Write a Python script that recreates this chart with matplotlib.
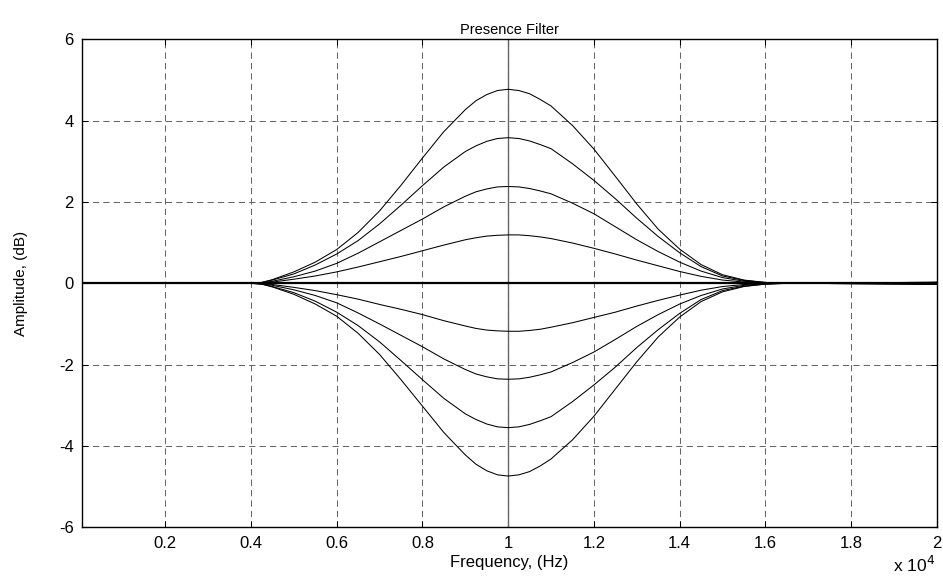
import matplotlib
matplotlib.use('Agg')
import matplotlib.pyplot as plt

plt.rcParams['font.family'] = ['Liberation Sans', 'DejaVu Sans']
plt.rcParams['lines.scale_dashes'] = False
plt.rcParams['axes.unicode_minus'] = False

# frequency points (Hz)
freq = [60, 4000, 4250, 4500, 5000, 5500, 6000, 6500, 7000, 7500, 8000, 8500,
        9000, 9250, 9500, 9750, 10000, 10250, 10500, 10750, 11000, 11500,
        12000, 12500, 13000, 13500, 14000, 14500, 15000, 15500, 16000, 16500,
        18500, 20000]

# boost curves (dB)
boost_48 = [0, 0, 0.02, 0.09, 0.28, 0.52, 0.83, 1.25, 1.78, 2.41, 3.08, 3.73,
            4.27, 4.49, 4.64, 4.74, 4.77, 4.74, 4.66, 4.52, 4.36, 3.88,
            3.30, 2.63, 1.95, 1.33, 0.84, 0.46, 0.21, 0.08, 0.02, 0,
            0.01, 0.03]
boost_36 = [0, 0, 0.02, 0.08, 0.23, 0.45, 0.72, 1.05, 1.46, 1.92, 2.40, 2.86,
            3.24, 3.38, 3.49, 3.56, 3.58, 3.56, 3.50, 3.41, 3.31, 2.94,
            2.53, 2.08, 1.60, 1.15, 0.75, 0.41, 0.18, 0.07, 0.02, 0,
            0.01, 0.02]
boost_24 = [0, 0, 0.01, 0.05, 0.16, 0.30, 0.49, 0.74, 1.02, 1.30, 1.58, 1.88,
            2.14, 2.25, 2.32, 2.37, 2.38, 2.37, 2.33, 2.27, 2.20, 1.97,
            1.71, 1.39, 1.07, 0.78, 0.52, 0.30, 0.14, 0.05, 0.01, 0,
            0.01, 0.02]
boost_12 = [0, 0, 0.01, 0.03, 0.10, 0.18, 0.28, 0.40, 0.53, 0.66, 0.80, 0.94,
            1.07, 1.12, 1.16, 1.18, 1.19, 1.19, 1.17, 1.14, 1.10, 0.99,
            0.86, 0.72, 0.57, 0.43, 0.29, 0.17, 0.08, 0.03, 0.01, 0,
            0.01, 0.01]

# cut curves (dB)
cut_12 = [0, 0, -0.01, -0.03, -0.10, -0.18, -0.28, -0.39, -0.52, -0.64, -0.77, -0.92,
          -1.05, -1.11, -1.15, -1.17, -1.18, -1.18, -1.16, -1.13, -1.08, -0.97,
          -0.84, -0.71, -0.56, -0.42, -0.29, -0.17, -0.08, -0.03, -0.01, 0,
          -0.01, -0.01]
cut_24 = [0, 0, -0.01, -0.05, -0.16, -0.30, -0.48, -0.73, -1.00, -1.28, -1.56, -1.86,
          -2.12, -2.23, -2.30, -2.35, -2.36, -2.35, -2.31, -2.25, -2.18, -1.95,
          -1.69, -1.38, -1.06, -0.77, -0.51, -0.30, -0.14, -0.05, -0.01, 0,
          -0.01, -0.02]
cut_36 = [0, 0, -0.02, -0.08, -0.23, -0.44, -0.71, -1.04, -1.44, -1.90, -2.37, -2.83,
          -3.21, -3.35, -3.46, -3.53, -3.55, -3.53, -3.47, -3.38, -3.28, -2.91,
          -2.50, -2.06, -1.58, -1.14, -0.74, -0.40, -0.18, -0.07, -0.02, 0,
          -0.01, -0.02]
cut_48 = [0, 0, -0.02, -0.09, -0.27, -0.51, -0.81, -1.23, -1.75, -2.37, -3.02, -3.67,
          -4.22, -4.45, -4.61, -4.71, -4.74, -4.71, -4.63, -4.49, -4.32, -3.85,
          -3.27, -2.60, -1.93, -1.32, -0.83, -0.45, -0.21, -0.08, -0.02, 0,
          -0.01, -0.03]

flat_freq = [60, 20000]
flat = [0, 0]
center_freq = 10000

xticks = [2000, 4000, 6000, 8000, 10000, 12000, 14000, 16000, 18000, 20000]
xtick_labels = ['0.2', '0.4', '0.6', '0.8', '1', '1.2', '1.4', '1.6', '1.8', '2']
yticks = [-6, -4, -2, 0, 2, 4, 6]

fig = plt.figure(figsize=(9.43, 5.82), dpi=100)
ax = fig.add_axes([0.087, 0.094, 0.9065, 0.8385])

ax.axvline(center_freq, color='0.4', lw=1.0, zorder=1)
ax.plot(flat_freq, flat, color='black', lw=1.6, zorder=3)
for curve in [boost_48, boost_36, boost_24, boost_12, cut_12, cut_24, cut_36, cut_48]:
    ax.plot(freq, curve, color='black', lw=0.75, zorder=3)

ax.set_xlim(60, 20000)
ax.set_ylim(-6, 6)
ax.set_xticks(xticks)
ax.set_xticklabels(xtick_labels)
ax.set_yticks(yticks)
ax.grid(True, color='0.4', lw=0.75, linestyle=(0, (4.5, 3)))
ax.set_axisbelow(True)
ax.tick_params(direction='in', length=4, width=0.75, top=True, right=True,
               labelsize=12, pad=6)
for s in ax.spines.values():
    s.set_linewidth(1.0)

ax.set_title('Presence Filter', fontsize=10.5, pad=4)
ax.set_xlabel('Frequency, (Hz)', fontsize=12, labelpad=3)
ax.set_ylabel('Amplitude, (dB)', fontsize=11,
              family=['Liberation Sans Narrow', 'Liberation Sans'], labelpad=22)
fig.text(0.992, 0.012, r'x 10$^4$', ha='right', va='bottom', fontsize=12.5)

fig.savefig('out.png', dpi=100)
plt.close(fig)
